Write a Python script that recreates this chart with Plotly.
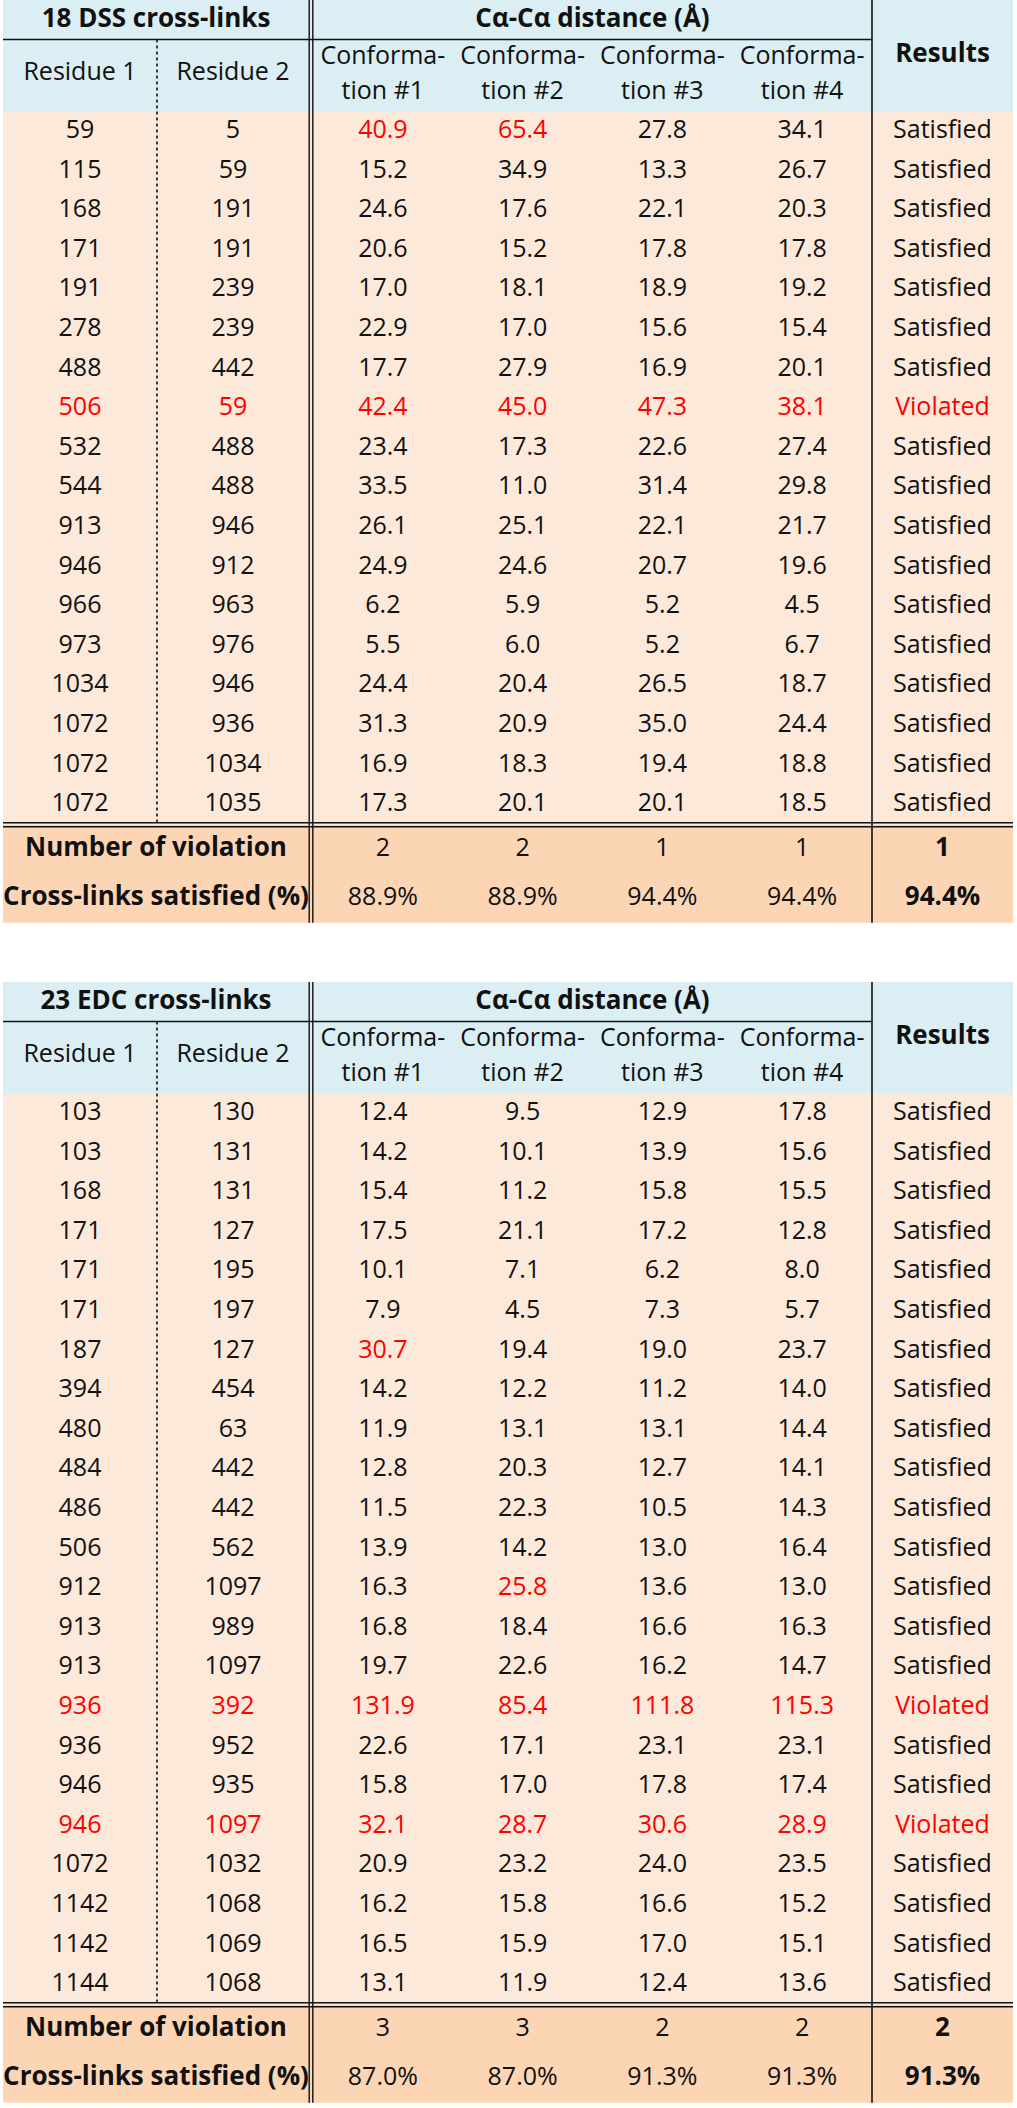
import plotly.graph_objects as go

# ---------------- DATA ----------------
dss_title = "18 DSS cross-links"
dss_res1 = [59, 115, 168, 171, 191, 278, 488, 506, 532, 544, 913, 946, 966, 973, 1034, 1072, 1072, 1072]
dss_res2 = [5, 59, 191, 191, 239, 239, 442, 59, 488, 488, 946, 912, 963, 976, 946, 936, 1034, 1035]
dss_c1 = [40.9, 15.2, 24.6, 20.6, 17.0, 22.9, 17.7, 42.4, 23.4, 33.5, 26.1, 24.9, 6.2, 5.5, 24.4, 31.3, 16.9, 17.3]
dss_c2 = [65.4, 34.9, 17.6, 15.2, 18.1, 17.0, 27.9, 45.0, 17.3, 11.0, 25.1, 24.6, 5.9, 6.0, 20.4, 20.9, 18.3, 20.1]
dss_c3 = [27.8, 13.3, 22.1, 17.8, 18.9, 15.6, 16.9, 47.3, 22.6, 31.4, 22.1, 20.7, 5.2, 5.2, 26.5, 35.0, 19.4, 20.1]
dss_c4 = [34.1, 26.7, 20.3, 17.8, 19.2, 15.4, 20.1, 38.1, 27.4, 29.8, 21.7, 19.6, 4.5, 6.7, 18.7, 24.4, 18.8, 18.5]
dss_results = ["Satisfied"] * 7 + ["Violated"] + ["Satisfied"] * 10
dss_threshold = 35.0
dss_violations = ["2", "2", "1", "1", "1"]
dss_satisfied = ["88.9%", "88.9%", "94.4%", "94.4%", "94.4%"]

edc_title = "23 EDC cross-links"
edc_res1 = [103, 103, 168, 171, 171, 171, 187, 394, 480, 484, 486, 506, 912, 913, 913, 936, 936, 946, 946, 1072, 1142, 1142, 1144]
edc_res2 = [130, 131, 131, 127, 195, 197, 127, 454, 63, 442, 442, 562, 1097, 989, 1097, 392, 952, 935, 1097, 1032, 1068, 1069, 1068]
edc_c1 = [12.4, 14.2, 15.4, 17.5, 10.1, 7.9, 30.7, 14.2, 11.9, 12.8, 11.5, 13.9, 16.3, 16.8, 19.7, 131.9, 22.6, 15.8, 32.1, 20.9, 16.2, 16.5, 13.1]
edc_c2 = [9.5, 10.1, 11.2, 21.1, 7.1, 4.5, 19.4, 12.2, 13.1, 20.3, 22.3, 14.2, 25.8, 18.4, 22.6, 85.4, 17.1, 17.0, 28.7, 23.2, 15.8, 15.9, 11.9]
edc_c3 = [12.9, 13.9, 15.8, 17.2, 6.2, 7.3, 19.0, 11.2, 13.1, 12.7, 10.5, 13.0, 13.6, 16.6, 16.2, 111.8, 23.1, 17.8, 30.6, 24.0, 16.6, 17.0, 12.4]
edc_c4 = [17.8, 15.6, 15.5, 12.8, 8.0, 5.7, 23.7, 14.0, 14.4, 14.1, 14.3, 16.4, 13.0, 16.3, 14.7, 115.3, 23.1, 17.4, 28.9, 23.5, 15.2, 15.1, 13.6]
edc_results = ["Satisfied"] * 15 + ["Violated"] + ["Satisfied"] * 2 + ["Violated"] + ["Satisfied"] * 4
edc_threshold = 25.0
edc_violations = ["3", "3", "2", "2", "2"]
edc_satisfied = ["87.0%", "87.0%", "91.3%", "91.3%", "91.3%"]

conf_line1 = ["Conforma-"] * 4
conf_line2 = ["tion #1", "tion #2", "tion #3", "tion #4"]
dist_label = "Cα-Cα distance (Å)"
res_labels = ["Residue 1", "Residue 2"]
results_label = "Results"
footer_labels = ["Number of violation", "Cross-links satisfied (%)"]

# ---------------- STYLE ----------------
W, H = 1017, 2108
FONT = "Open Sans"
FS = 25
FSB = 26
BLUE = "#daeef3"
PEACH = "#fde9d9"
FOOT = "#fcd5b4"
RED = "#ff0000"
INK = "#111111"
X0, X1 = 3, 1013
XDOT = 157
XD = 311
XRES = 872
HDR1 = 39.5
HDR2 = 112
ROWH = 39.6
FOOTH = 49
conf_w = (XRES - (XD + 2)) / 4
conf_cx = [XD + 2 + conf_w * (k + 0.5) for k in range(4)]
res_cx = [(X0 + XDOT) / 2, (XDOT + XD - 2) / 2]
result_cx = (XRES + X1) / 2

fig = go.Figure()
shapes = []


def line(xa, ya, xb, yb, w=1.6, dash="solid", color=INK):
    shapes.append(dict(type="line", xref="x", yref="y", x0=xa, y0=ya, x1=xb, y1=yb,
                       line=dict(color=color, width=w, dash=dash), layer="above"))


def rect(xa, ya, xb, yb, fill):
    shapes.append(dict(type="rect", xref="x", yref="y", x0=xa, y0=ya, x1=xb, y1=yb,
                       line=dict(width=0), fillcolor=fill, layer="below"))


def add_text(xs, ys, texts, colors, size=FS):
    fig.add_trace(go.Scatter(x=xs, y=ys, text=texts, mode="text",
                             textposition="middle center",
                             textfont=dict(family=FONT, size=size, color=colors),
                             hoverinfo="skip", showlegend=False))


def draw_table(top, title, r1, r2, confs, results, thr, viol, sat):
    n = len(r1)
    body_top = top + HDR2
    body_end = body_top + n * ROWH
    foot_end = body_end + 2 * FOOTH
    rect(X0, top, X1, body_top, BLUE)
    rect(X0, body_top, X1, body_end, PEACH)
    rect(X0, body_end, X1, foot_end, FOOT)

    # lines
    line(X0, top + HDR1, XRES, top + HDR1)
    line(XDOT, top + HDR1, XDOT, body_end - 2, w=1.6, dash="dot")
    line(XD - 1.8, top, XD - 1.8, foot_end, w=1.4)
    line(XD + 1.8, top, XD + 1.8, foot_end, w=1.4)
    line(XRES, top, XRES, foot_end, w=1.6)
    line(X0, body_end - 2, X1, body_end - 2, w=1.4)
    line(X0, body_end + 2, X1, body_end + 2, w=1.4)

    # bold headers
    hx = [(X0 + XD - 2) / 2, (XD + 2 + XRES) / 2, result_cx]
    hy = [top + HDR1 / 2 + 1, top + HDR1 / 2 + 1, top + HDR2 / 2 - 1]
    ht = ["<b>%s</b>" % title, "<b>%s</b>" % dist_label, "<b>%s</b>" % results_label]
    add_text(hx, hy, ht, [INK] * len(ht), size=FSB)

    # normal sub-headers
    sx = list(res_cx) + conf_cx + conf_cx
    sy = [top + (HDR1 + HDR2) / 2 - 2] * 2 + [top + HDR1 + 18] * 4 + [top + HDR1 + 53] * 4
    st = res_labels + conf_line1 + conf_line2
    add_text(sx, sy, st, [INK] * len(st))

    # body
    xs, ys, ts, cs = [], [], [], []
    for i in range(n):
        yc = body_top + ROWH * (i + 0.5)
        bad = results[i] == "Violated"
        for cx, v in zip(res_cx, (r1[i], r2[i])):
            xs.append(cx); ys.append(yc); ts.append(str(v)); cs.append(RED if bad else INK)
        for k in range(4):
            v = confs[k][i]
            xs.append(conf_cx[k]); ys.append(yc); ts.append("%.1f" % v)
            cs.append(RED if v > thr else INK)
        xs.append(result_cx); ys.append(yc); ts.append(results[i]); cs.append(RED if bad else INK)
    add_text(xs, ys, ts, cs)

    # footer
    fbx, fby, fbt = [], [], []
    fx, fy, ft = [], [], []
    for j, (lab, vals) in enumerate(zip(footer_labels, (viol, sat))):
        yc = body_end + FOOTH * (j + 0.5)
        fbx.append((X0 + XD - 2) / 2); fby.append(yc); fbt.append("<b>%s</b>" % lab)
        for k in range(4):
            fx.append(conf_cx[k]); fy.append(yc); ft.append(vals[k])
        fbx.append(result_cx); fby.append(yc); fbt.append("<b>%s</b>" % vals[4])
    add_text(fx, fy, ft, [INK] * len(ft))
    add_text(fbx, fby, fbt, [INK] * len(fbt), size=FSB)


draw_table(0, dss_title, dss_res1, dss_res2, [dss_c1, dss_c2, dss_c3, dss_c4],
           dss_results, dss_threshold, dss_violations, dss_satisfied)
draw_table(982, edc_title, edc_res1, edc_res2, [edc_c1, edc_c2, edc_c3, edc_c4],
           edc_results, edc_threshold, edc_violations, edc_satisfied)

fig.update_layout(
    width=W, height=H, autosize=False,
    margin=dict(l=0, r=0, t=0, b=0),
    paper_bgcolor="white", plot_bgcolor="white",
    shapes=shapes,
    xaxis=dict(range=[0, W], visible=False, fixedrange=True),
    yaxis=dict(range=[H, 0], visible=False, fixedrange=True),
)

fig.write_html("out.html", config={"displayModeBar": False},
               post_script="document.body.style.margin='0';")
